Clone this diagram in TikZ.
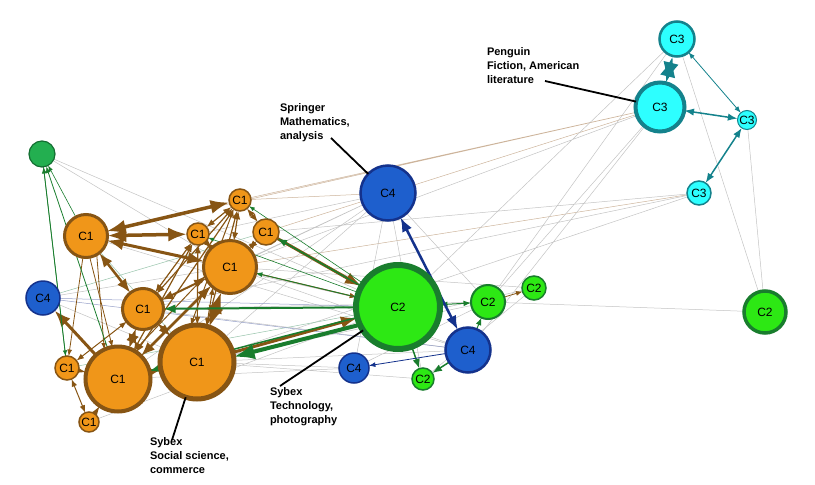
\documentclass[tikz,border=0pt]{standalone}
\usepackage{fontspec}
\setmainfont{Liberation Sans}
\usetikzlibrary{arrows.meta}
\pgfdeclarelayer{background}
\pgfsetlayers{background,main}
\definecolor{c1fill}{RGB}{240,150,25}
\definecolor{c1line}{RGB}{135,85,20}
\definecolor{c2fill}{RGB}{45,232,20}
\definecolor{c2line}{RGB}{25,125,45}
\definecolor{c0fill}{RGB}{35,175,80}
\definecolor{c0line}{RGB}{20,110,50}
\definecolor{c3fill}{RGB}{45,255,255}
\definecolor{c3line}{RGB}{20,130,140}
\definecolor{c4fill}{RGB}{30,95,205}
\definecolor{c4line}{RGB}{20,50,140}
\definecolor{linkgray}{RGB}{195,195,195}
\definecolor{linkbrown}{RGB}{205,180,155}
\definecolor{linkgreen}{RGB}{150,195,170}
\definecolor{linkblue}{RGB}{150,160,200}
\begin{document}
\begin{tikzpicture}[x=1pt,y=-1pt,inner sep=0pt,outer sep=0pt,>={Latex},
font=\fontsize{12}{14}\selectfont,
nd/.style={circle,draw,line width=1.5pt},
c0/.style={nd,draw=c0line,fill=c0fill,minimum size=#1},
c1/.style={nd,draw=c1line,fill=c1fill,minimum size=#1},
c2/.style={nd,draw=c2line,fill=c2fill,minimum size=#1},
c3/.style={nd,draw=c3line,fill=c3fill,minimum size=#1},
c4/.style={nd,draw=c4line,fill=c4fill,minimum size=#1},
link/.style={draw=linkgray,line width=0.5pt},
blink/.style={draw=linkbrown,line width=0.5pt},
glink/.style={draw=linkgreen,line width=0.5pt},
ulink/.style={draw=linkblue,line width=0.5pt},
brarr/.style={draw=c1line,line width=#1},
grarr/.style={draw=c2line,line width=#1},
blarr/.style={draw=c4line,line width=#1},
tlarr/.style={draw=c3line,line width=#1},
callout/.style={line width=1.8pt},
pub/.style={font=\fontsize{11}{14}\selectfont\bfseries,align=left,anchor=north west}]

\useasboundingbox (0,0) rectangle (815,485);

% community 1
\draw (86,236) node[c1=43,line width=3pt] (a1) {C1};
\draw (240,200) node[c1=22] (a2) {C1};
\draw (198,234) node[c1=22] (a3) {C1};
\draw (266,232) node[c1=26] (a4) {C1};
\draw (230,267) node[c1=53,line width=3pt] (a5) {C1};
\draw (143,309) node[c1=41,line width=3pt] (a6) {C1};
\draw (67,368) node[c1=24] (a7) {C1};
\draw (118,379) node[c1=65,line width=4pt] (a8) {C1};
\draw (197,362) node[c1=74,line width=5pt] (a9) {C1};
\draw (89,422) node[c1=20] (a10) {C1};
\draw (42,154) node[c0=26,line width=1.2pt] (g0) {};

% community 2
\draw (398,307) node[c2=84,line width=6pt] (b1) {C2};
\draw (488,302) node[c2=34,line width=2pt] (b2) {C2};
\draw (534,288) node[c2=24] (b3) {C2};
\draw (423,379) node[c2=22] (b4) {C2};
\draw (765,312) node[c2=42,line width=3.5pt] (b5) {C2};

% community 3
\draw (677,39) node[c3=35,line width=2.5pt] (e1) {C3};
\draw (660,107) node[c3=49,line width=4pt] (e2) {C3};
\draw (747,120) node[c3=19,line width=1pt] (e3) {C3};
\draw (699,193) node[c3=24] (e4) {C3};

% community 4
\draw (43,298) node[c4=34] (d1) {C4};
\draw (388,193) node[c4=55,line width=2.5pt] (d2) {C4};
\draw (468,350) node[c4=45,line width=2.5pt] (d3) {C4};
\draw (354,368) node[c4=30] (d4) {C4};

\begin{pgfonlayer}{background}
% thin links
\draw[blink] (a1) -- (e2) (a2) -- (e2) (a4) -- (e2) (a5) -- (e4) (a2) -- (d2);
\draw[link] (a4) -- (e4) (a6) -- (e4) (a9) -- (e4) (a5) -- (e2) (b1) -- (e1)
  (b2) -- (e2) (b2) -- (e1) (d3) -- (e2) (b2) -- (b5) (e1) -- (b5) (e3) -- (b5);
\draw[link] (d2) -- (a6) (d2) -- (a5) (d2) -- (a9) (d2) -- (a8) (d2) -- (b4)
  (d2) -- (d4) (d2) -- (b2) (d2) -- (a3);
\draw[link] (a1) -- (b1) (a6) -- (b2) (a9) -- (d3) (a9) -- (d4) (a9) -- (b4)
  (a5) -- (d3) (a6) -- (d3) (a1) -- (d3) (g0) -- (b1) (g0) -- (a5)
  (d1) -- (a5) (a8) -- (b2) (a9) -- (b3) (a5) -- (b3) (d4) -- (b2)
  (b4) -- (b3) (a8) -- (d4) (a10) -- (b1) (d1) -- (a9);
\draw[glink] (a1) -- (a9) (d1) -- (a4) (a7) -- (b1);
\draw[ulink] (d1) -- (b1) (d1) -- (d3);

% community 1 arrows
\draw[brarr=3.5pt,<->] (a1) -- (a2);
\draw[brarr=3.5pt,<->] (a1) -- (a3);
\draw[brarr=3pt,<->] (a1) -- (a5);
\draw[brarr=2.5pt,<->] (a1) -- (a6);
\draw[brarr=0.8pt,->] (a1) -- (a7);
\draw[brarr=0.8pt,->] (a1.-80) -- (a8.100);
\draw[brarr=0.8pt,->] (a1.-60) -- (a8.115);
\draw[brarr=2pt,<->] (a6) -- (a5);
\draw[brarr=1.2pt,<->] (a6) -- (a2);
\draw[brarr=1.2pt,<->] (a6) -- (a3);
\draw[brarr=2.5pt,<->] (a8) -- (a5);
\draw[brarr=1pt,<->] (a8.60) -- (a5.200);
\draw[brarr=1.2pt,<->] (a8) -- (a3);
\draw[brarr=1.2pt,<->] (a8) -- (a2);
\draw[brarr=2.5pt,<->] (a8) -- (a6);
\draw[brarr=4pt,<->] (a9) -- (a5);
\draw[brarr=1pt,<->] (a9.75) -- (a5.230);
\draw[brarr=2pt,<->] (a9) -- (a6);
\draw[brarr=1.2pt,<->] (a9) -- (a3);
\draw[brarr=1.2pt,<->] (a9) -- (a2);
\draw[brarr=1pt,<->] (a9.100) -- (a2.235);
\draw[brarr=2.5pt,<->] (a8) -- (a9);
\draw[brarr=3pt,->] (a8) -- (d1);
\draw[brarr=2.5pt,<->] (a7) -- (a8);
\draw[brarr=2.5pt,<->] (a10) -- (a8);
\draw[brarr=1pt,<->] (a10) -- (a7);
\draw[brarr=1pt,<->] (a7) -- (a6);
\draw[brarr=1.2pt,<->] (a2) -- (a4);
\draw[brarr=1.2pt,<->] (a3) -- (a5);
\draw[brarr=1.2pt,<->] (a2) -- (a5);
\draw[brarr=1.2pt,<->] (a4) -- (a5);
\draw[brarr=1.2pt,<->] (a2) -- (a3);
\draw[brarr=3pt,->] (a4) -- (b1);
\draw[brarr=1pt,->] (a5) -- (b1);
\draw[brarr=3pt,->] (a9.15) -- (b1.195);
\draw[brarr=0.8pt,->] (b2) -- (b3);

% community 2 arrows
\draw[grarr=2pt,->] (b1) -- (a6);
\draw[grarr=4pt,->] (b1.205) -- (a9.8);
\draw[grarr=1.5pt,->] (b1) -- (a8);
\draw[grarr=1.5pt,->] (b1) -- (a4);
\draw[grarr=0.8pt,->] (b1) -- (a5);
\draw[grarr=0.6pt,->] (b1) -- (a2);
\draw[grarr=0.6pt,->] (b1) -- (a3);
\draw[grarr=0.8pt,->] (a7) -- (g0);
\draw[grarr=0.8pt,->] (a8) -- (g0);
\draw[grarr=0.6pt,->] (a1) -- (g0);
\draw[grarr=0.6pt,->] (g0) -- (a7);
\draw[grarr=1.5pt,->] (b1) -- (b4);
\draw[grarr=1.5pt,->] (d3) -- (b4);
\draw[grarr=1pt,<->] (b1) -- (b2);
\draw[grarr=1pt,->] (d3) -- (b2);

% community 4 arrows
\draw[blarr=2.5pt,<->] (d2) -- (d3);
\draw[blarr=0.8pt,->] (d3) -- (d4);

% community 3 arrows
\draw[tlarr=4pt,<->] (e1) -- (e2);
\draw[tlarr=1.5pt,<->] (e2) -- (e3);
\draw[tlarr=0.8pt,<->] (e1) -- (e3);
\draw[tlarr=1.5pt,<->] (e3) -- (e4);
\end{pgfonlayer}

% publishers
\draw (280,104) node[pub] (lsp) {Springer\\Mathematics,\\analysis};
\draw (487,48) node[pub] (lpe) {Penguin\\Fiction, American\\literature};
\draw (270,388) node[pub] (lte) {Sybex\\Technology,\\photography};
\draw (150,438) node[pub] (lso) {Sybex\\Social science,\\commerce};
\coordinate (psp) at (331,138);
\coordinate (ppe) at (545,81);
\coordinate (pte) at (280,386);
\coordinate (pso) at (172,440);
\draw[callout] (psp) -- (d2);
\draw[callout] (ppe) -- (e2);
\draw[callout] (pte) -- (b1);
\draw[callout] (pso) -- (a9);

\end{tikzpicture}
\end{document}
